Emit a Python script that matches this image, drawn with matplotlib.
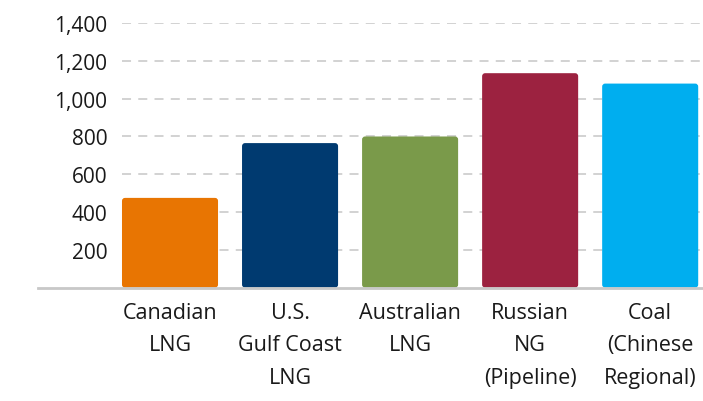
import matplotlib
matplotlib.use("Agg")
import matplotlib.pyplot as plt
from matplotlib.patches import FancyBboxPatch
import numpy as np

categories = ["Canadian\nLNG", "U.S.\nGulf Coast\nLNG", "Australian\nLNG",
              "Russian\nNG\n(Pipeline)", "Coal\n(Chinese\nRegional)"]
values = [475, 765, 800, 1135, 1080]
colors = ["#E87502", "#003A70", "#7A9A4A", "#9C2240", "#00AEEF"]
yticks = [200, 400, 600, 800, 1000, 1200, 1400]

plt.rcParams['font.family'] = ['Open Sans', 'DejaVu Sans']

fig = plt.figure(figsize=(7.03, 4.02), dpi=100)
ax = fig.add_axes([0.054, 0.282, 0.946, 0.658])

x = np.arange(len(categories))
bars = ax.bar(x, values, width=0.8, color=colors, zorder=3)

# swap plain bars for slightly rounded ones
for b, c in zip(bars, colors):
    b.set_visible(False)
    ax.add_patch(FancyBboxPatch((b.get_x(), b.get_y()), b.get_width(), b.get_height(),
                                boxstyle="round,pad=0,rounding_size=0.025",
                                mutation_aspect=640, facecolor=c, edgecolor="none",
                                zorder=3))

ax.set_xlim(-1.1, 4.44)
ax.set_ylim(0, 1400)

ax.hlines(yticks, -0.4, 4.44, colors="#cfcfcf", linestyles=(0, (5, 4)),
          linewidth=1.3, zorder=1)

ax.set_yticks(yticks)
ax.set_yticklabels(["{:,}".format(v) for v in yticks])
ax.tick_params(axis="y", length=0, pad=-50, labelsize=15, labelcolor="#1a1a1a")

ax.set_xticks(x)
ax.set_xticklabels(categories, linespacing=1.72)
ax.tick_params(axis="x", length=0, pad=10, labelsize=15.5, labelcolor="#1a1a1a")

for s in ["top", "right", "left"]:
    ax.spines[s].set_visible(False)
ax.spines["bottom"].set_color("#c8c8c8")
ax.spines["bottom"].set_linewidth(2)
ax.spines["bottom"].set_zorder(4)

fig.savefig("out.png", dpi=100)
